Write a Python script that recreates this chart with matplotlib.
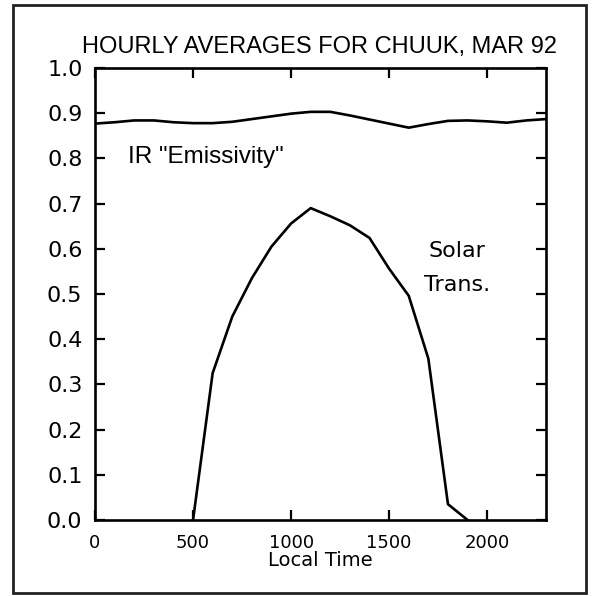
import matplotlib
matplotlib.use("Agg")
import matplotlib.pyplot as plt
from matplotlib.patches import Rectangle

# Hourly local time (hhmm)
hours = [0, 100, 200, 300, 400, 500, 600, 700, 800, 900, 1000, 1100,
         1200, 1300, 1400, 1500, 1600, 1700, 1800, 1900, 2000, 2100, 2200, 2300]

# IR "emissivity" hourly averages
ir_emissivity = [0.877, 0.880, 0.884, 0.884, 0.880, 0.878, 0.878, 0.881,
                 0.887, 0.893, 0.899, 0.903, 0.903, 0.895, 0.886, 0.877,
                 0.868, 0.876, 0.883, 0.884, 0.882, 0.879, 0.884, 0.887]

# Solar transmission hourly averages (daylight hours)
solar_hours = [500, 600, 700, 800, 900, 1000, 1100, 1200, 1300, 1400, 1500, 1600, 1700, 1800, 1900]
solar_trans = [0.0, 0.325, 0.45, 0.535, 0.605, 0.656, 0.690, 0.672, 0.652, 0.624,
               0.556, 0.496, 0.357, 0.035, 0.0]

x_ticks = [0, 500, 1000, 1500, 2000]
y_ticks = [0.0, 0.1, 0.2, 0.3, 0.4, 0.5, 0.6, 0.7, 0.8, 0.9, 1.0]

W, H = 592, 596
fig = plt.figure(figsize=(W / 100, H / 100), dpi=100)
fig.patch.set_facecolor("white")

# Outer frame
fig.add_artist(Rectangle((13 / W, 1 - 593 / H), (586 - 13) / W, (593 - 5) / H,
                         transform=fig.transFigure, fill=False,
                         edgecolor="#222222", linewidth=2.0))

ax = fig.add_axes([95 / W, 1 - 520 / H, 451 / W, 452 / H])
ax.plot(hours, ir_emissivity, color="black", linewidth=1.9, solid_joinstyle="round")
ax.plot(solar_hours, solar_trans, color="black", linewidth=1.9, solid_joinstyle="round")

ax.set_xlim(0, 2300)
ax.set_ylim(0.0, 1.0)
ax.set_xticks(x_ticks)
ax.set_yticks(y_ticks)
ax.set_xticklabels([str(v) for v in x_ticks], fontsize=13, family="DejaVu Sans")
ax.set_yticklabels([f"{v:.1f}" for v in y_ticks], fontsize=16, family="DejaVu Sans")
ax.tick_params(axis="x", direction="in", length=7, width=1.6, top=True, pad=10)
ax.tick_params(axis="y", direction="in", length=7, width=1.6, right=True, pad=9)
for s in ax.spines.values():
    s.set_linewidth(1.9)

ax.set_xlabel("Local Time", fontsize=14, family="DejaVu Sans", labelpad=-1)

ax.text(168, 0.803, 'IR "Emissivity"', fontsize=17.5, family="Liberation Sans",
        ha="left", va="center")
ax.text(1846, 0.595, "Solar", fontsize=16, family="DejaVu Sans", ha="center", va="center")
ax.text(1846, 0.520, "Trans.", fontsize=16, family="DejaVu Sans", ha="center", va="center")

fig.text(320 / W, 1 - 47 / H, "HOURLY AVERAGES FOR CHUUK, MAR 92", fontsize=17,
         family="Liberation Sans", ha="center", va="center")

fig.savefig("out.png", dpi=100, facecolor="white")
